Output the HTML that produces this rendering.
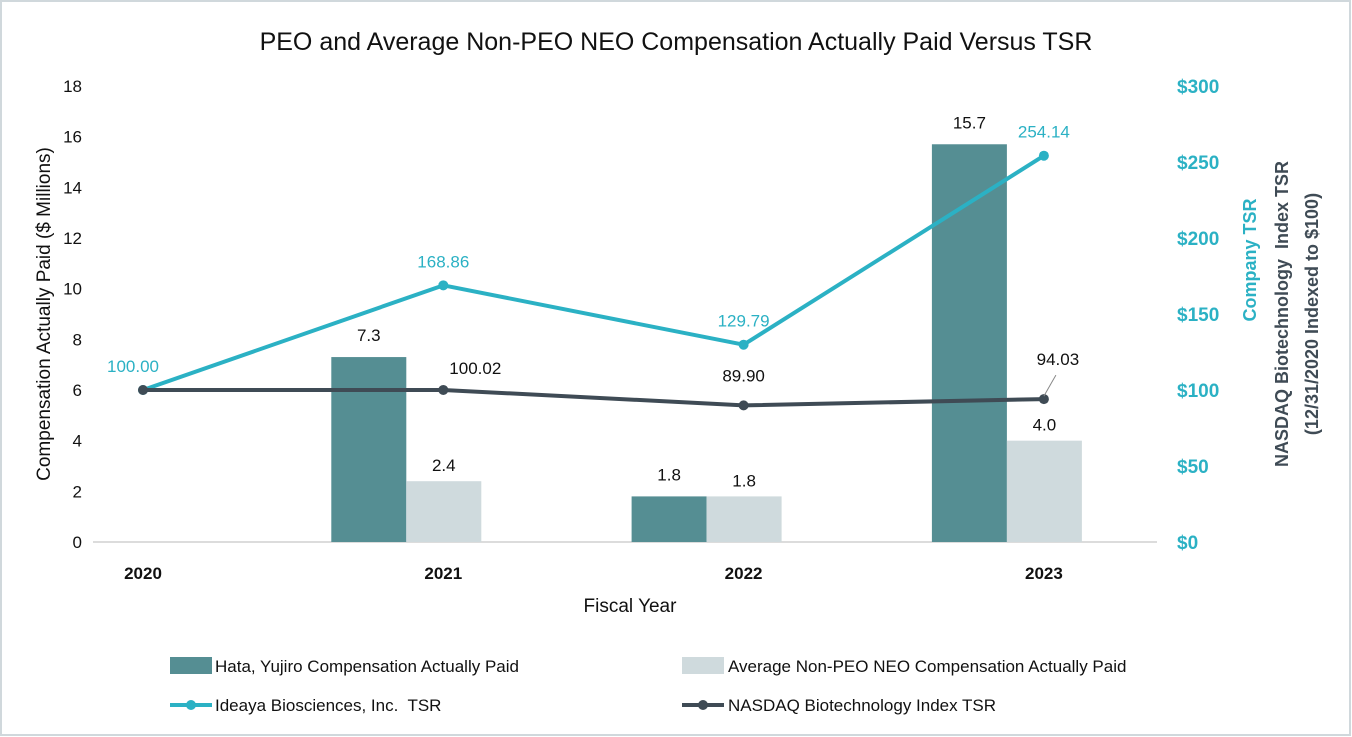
<!DOCTYPE html>
<html><head><meta charset="utf-8"><style>
body{margin:0;background:#fff}
svg{display:block;font-family:"Liberation Sans",Arial,sans-serif}
</style></head><body>
<svg id="chart" width="1352" height="737" viewBox="0 0 1352 737" xmlns="http://www.w3.org/2000/svg">
<rect x="1" y="1" width="1349" height="734" fill="#fff" stroke="#d0d8dc" stroke-width="2"/>
<text x="676" y="50" text-anchor="middle" font-size="25" fill="#111">PEO and Average Non-PEO NEO Compensation Actually Paid Versus TSR</text>
<g id="axes"></g>
<g id="marks"></g>
<text transform="translate(50,314) rotate(-90)" text-anchor="middle" font-size="19" fill="#111">Compensation Actually Paid ($ Millions)</text>
<text transform="translate(1256,260) rotate(-90)" text-anchor="middle" font-size="18" font-weight="bold" fill="#2bb1c4">Company TSR</text>
<text transform="translate(1288,314) rotate(-90)" text-anchor="middle" font-size="18" font-weight="bold" fill="#3f4b55">NASDAQ Biotechnology&#160; Index TSR</text>
<text transform="translate(1318,314) rotate(-90)" text-anchor="middle" font-size="18" font-weight="bold" fill="#3f4b55">(12/31/2020 Indexed to $100)</text>
<text x="630" y="612" text-anchor="middle" font-size="19" fill="#111">Fiscal Year</text>
<g>
<rect x="170" y="657" width="42" height="17" fill="#558e93"/>
<text x="215" y="672" font-size="17" fill="#111">Hata, Yujiro Compensation Actually Paid</text>
<rect x="682" y="657" width="42" height="17" fill="#cfdadd"/>
<text x="728" y="672" font-size="17" fill="#111">Average Non-PEO NEO Compensation Actually Paid</text>
<line x1="170" y1="705" x2="212" y2="705" stroke="#2bb1c4" stroke-width="4"/>
<circle cx="191" cy="705" r="5" fill="#2bb1c4"/>
<text x="215" y="711" font-size="17" fill="#111">Ideaya Biosciences, Inc.&#160; TSR</text>
<line x1="682" y1="705" x2="724" y2="705" stroke="#3f4b55" stroke-width="4"/>
<circle cx="703" cy="705" r="5" fill="#3f4b55"/>
<text x="728" y="711" font-size="17" fill="#111">NASDAQ Biotechnology Index TSR</text>
</g>
</svg>
<script>
const years = ["2020","2021","2022","2023"];
const peoComp = [null, 7.3, 1.8, 15.7];
const nonPeoComp = [null, 2.4, 1.8, 4.0];
const companyTsr = [100.00, 168.86, 129.79, 254.14];
const nasdaqTsr = [100.00, 100.02, 89.90, 94.03];
const leftTicks = [0,2,4,6,8,10,12,14,16,18];
const rightTicks = [0,50,100,150,200,250,300];

const NS="http://www.w3.org/2000/svg";
const y0=542, yTop=86;
function yL(v){return y0-(v/18)*(y0-yTop);}
function yR(v){return y0-(v/300)*(y0-yTop);}
function xC(i){return 143+i*300.3;}
function mk(tag,attrs,parent,text){const e=document.createElementNS(NS,tag);for(const k in attrs)e.setAttribute(k,attrs[k]);if(text!==undefined)e.textContent=text;parent.appendChild(e);return e;}
const axes=document.getElementById('axes'), marks=document.getElementById('marks');

let el=mk('line',{x1:93,y1:y0,x2:1157,y2:y0,stroke:'#d0d0d0','stroke-width':1.5},axes);


leftTicks.forEach(t=>{
  const e=mk('text',{x:82,y:yL(t)+6,'text-anchor':'end','font-size':17,fill:'#111'},axes,String(t));
  
  
});
rightTicks.forEach(t=>{
  const e=mk('text',{x:1177,y:yR(t)+7,'font-size':19,'font-weight':'bold',fill:'#2bb1c4'},axes,'$'+t);
  
  
});
years.forEach((y,i)=>{
  const e=mk('text',{x:xC(i),y:579,'text-anchor':'middle','font-size':17,'font-weight':'bold',fill:'#111'},axes,y);
  
  
});
const bw=75, off=37;
years.forEach((y,i)=>{
  const gc=xC(i)-off;
  if(peoComp[i]!=null){
    const b=mk('rect',{x:gc-bw,y:yL(peoComp[i]),width:bw,height:y0-yL(peoComp[i]),fill:'#558e93'},marks);
    
    
    const l=mk('text',{x:gc-bw/2,y:yL(peoComp[i])-16,'text-anchor':'middle','font-size':17,fill:'#111'},marks,peoComp[i].toFixed(1));
    
    
  }
  if(nonPeoComp[i]!=null){
    const b=mk('rect',{x:gc,y:yL(nonPeoComp[i]),width:bw,height:y0-yL(nonPeoComp[i]),fill:'#cfdadd'},marks);
    
    
    const l=mk('text',{x:gc+bw/2,y:yL(nonPeoComp[i])-10,'text-anchor':'middle','font-size':17,fill:'#111'},marks,nonPeoComp[i].toFixed(1));
    
    
  }
});
function line(vals,color,name){
  const p=mk('polyline',{points:vals.map((v,i)=>xC(i)+','+yR(v)).join(' '),fill:'none',stroke:color,'stroke-width':4,'stroke-linejoin':'round'},marks);
  
  
  vals.forEach((v,i)=>{
    const c=mk('circle',{cx:xC(i),cy:yR(v),r:5,fill:color},marks);
    
    
  });
}
line(companyTsr,'#2bb1c4','company-tsr');
line(nasdaqTsr,'#3f4b55','nasdaq-tsr');
companyTsr.forEach((v,i)=>{
  const dx=[-10,0,0,0][i];
  const l=mk('text',{x:xC(i)+dx,y:yR(v)-18,'text-anchor':'middle','font-size':17,fill:'#2bb1c4'},marks,v.toFixed(2));
  
  
});
nasdaqTsr.forEach((v,i)=>{
  if(i===0)return;
  const dx=[0,32,0,14][i], dy=[0,-16,-24,-34][i];
  const l=mk('text',{x:xC(i)+dx,y:yR(v)+dy,'text-anchor':'middle','font-size':17,fill:'#111'},marks,v.toFixed(2));
  
  
});
el=mk('line',{x1:xC(3),y1:yR(nasdaqTsr[3])-3,x2:xC(3)+12,y2:yR(nasdaqTsr[3])-24,stroke:'#888','stroke-width':1},marks);


</script>
</body></html>
